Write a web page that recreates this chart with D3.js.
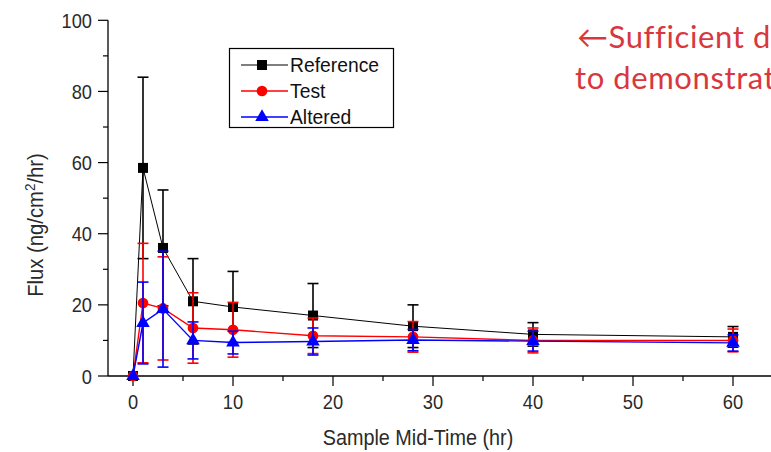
<!DOCTYPE html>
<html>
<head>
<meta charset="utf-8">
<script src="https://cdn.jsdelivr.net/npm/d3@7"></script>
<style>
  body { margin: 0; background: #fff; }
  svg { display: block; }
</style>
</head>
<body>
<div id="chart"></div>
<script>
// sample mid-times (hr)
var times = [0, 1, 3, 6, 10, 18, 28, 40, 60];

// flux values
var refMean  = [0, 58.5, 36, 21, 19.4, 17, 14, 11.7, 11];
var refErr   = [0, 25.5, 16.3, 12, 10, 9, 6, 3.3, 2.9];
var testMean = [0, 20.5, 19, 13.5, 13, 11.3, 11, 10, 10];
var testErr  = [0, 16.8, 14.5, 9.9, 7.7, 5, 4.3, 3.5, 3.2];
var altMean  = [0, 14.9, 18.8, 10, 9.4, 9.7, 10.1, 9.8, 9.3];
var altErr   = [0, 11.5, 16.3, 5.2, 3.2, 3.8, 3, 2.8, 2.3];

var seriesNames = ["Reference", "Test", "Altered"];
var xTicks = [0, 10, 20, 30, 40, 50, 60];
var yTicks = [0, 20, 40, 60, 80, 100];

var svgWidth = 771;
var svgHeight = 452;

var svg = d3.select("#chart")
  .append("svg")
  .attr("width", svgWidth)
  .attr("height", svgHeight);

// scales: x 0 -> 133px, 10 hr per 100px; y 0 -> 376px, 100 -> 20px
var xScale = d3.scaleLinear().domain([-2.5, 64]).range([108, 773]);
var yScale = d3.scaleLinear().domain([0, 100]).range([376, 20.3]);

var axisFont = "'Liberation Sans', Arial, sans-serif";
var textColor = "#2a2a2a";
var squeeze = 0.87; // origin-style narrow text

// x axis
var xAxisG = svg.append("g")
  .attr("transform", "translate(0,376)");
xAxisG.append("line")
  .attr("x1", 108).attr("x2", 773)
  .attr("stroke", "#000").attr("stroke-width", 1.3);
xAxisG.selectAll(".minor")
  .data(d3.range(5, 65, 10))
  .enter().append("line")
  .attr("x1", d => xScale(d)).attr("x2", d => xScale(d))
  .attr("y1", 0).attr("y2", 5)
  .attr("stroke", "#000").attr("stroke-width", 1.2);
xAxisG.selectAll(".major")
  .data(xTicks)
  .enter().append("line")
  .attr("x1", d => xScale(d)).attr("x2", d => xScale(d))
  .attr("y1", 0).attr("y2", 10)
  .attr("stroke", "#000").attr("stroke-width", 1.2);
xAxisG.selectAll("text")
  .data(xTicks)
  .enter().append("text")
  .attr("transform", d => `translate(${xScale(d)},33) scale(${squeeze},1)`)
  .attr("text-anchor", "middle")
  .attr("font-family", axisFont)
  .attr("font-size", 21)
  .attr("fill", textColor)
  .text(d => d);

// y axis
var yAxisG = svg.append("g")
  .attr("transform", "translate(108,0)");
yAxisG.append("line")
  .attr("y1", yScale(0)).attr("y2", yScale(100))
  .attr("stroke", "#000").attr("stroke-width", 1.3);
yAxisG.selectAll(".minor")
  .data(d3.range(10, 100, 20))
  .enter().append("line")
  .attr("y1", d => yScale(d)).attr("y2", d => yScale(d))
  .attr("x1", 0).attr("x2", -5)
  .attr("stroke", "#000").attr("stroke-width", 1.2);
yAxisG.selectAll(".major")
  .data(yTicks)
  .enter().append("line")
  .attr("y1", d => yScale(d)).attr("y2", d => yScale(d))
  .attr("x1", 0).attr("x2", -10)
  .attr("stroke", "#000").attr("stroke-width", 1.2);
yAxisG.selectAll("text")
  .data(yTicks)
  .enter().append("text")
  .attr("transform", d => `translate(-16,${yScale(d) + 7.5}) scale(${squeeze},1)`)
  .attr("text-anchor", "end")
  .attr("font-family", axisFont)
  .attr("font-size", 21)
  .attr("fill", textColor)
  .text(d => d);

// axis titles
svg.append("text")
  .attr("transform", `translate(418,445) scale(0.9,1)`)
  .attr("text-anchor", "middle")
  .attr("font-family", axisFont)
  .attr("font-size", 22)
  .attr("fill", textColor)
  .text("Sample Mid-Time (hr)");

var yTitle = svg.append("text")
  .attr("transform", `translate(43,225) rotate(-90) scale(0.9,1)`)
  .attr("text-anchor", "middle")
  .attr("font-family", axisFont)
  .attr("font-size", 22.5)
  .attr("fill", textColor);
yTitle.append("tspan").text("Flux (ng/cm");
yTitle.append("tspan").attr("font-size", 15).attr("dy", -8).text("2");
yTitle.append("tspan").attr("dy", 8).text("/hr)");

// series
var series = [
  { name: "Reference", mean: refMean, err: refErr, color: "#000", shape: d3.symbolSquare, size: 100, lw: 1 },
  { name: "Test", mean: testMean, err: testErr, color: "#ff0000", shape: d3.symbolCircle, size: 90, lw: 1.4 },
  { name: "Altered", mean: altMean, err: altErr, color: "#0000ff", shape: d3.symbolTriangle, size: 80, lw: 1.4 }
];

var line = d3.line()
  .x(d => xScale(d.t))
  .y(d => yScale(d.v));

series.forEach(function(s) {
  var pts = times.map((t, i) => ({ t: t, v: s.mean[i], e: s.err[i] }));
  var g = svg.append("g");

  g.append("path")
    .datum(pts)
    .attr("d", line)
    .attr("fill", "none")
    .attr("stroke", s.color)
    .attr("stroke-width", s.lw);

  // error bars
  var bars = g.selectAll(".err")
    .data(pts.filter(d => d.e > 0))
    .enter().append("g");
  bars.append("line")
    .attr("x1", d => xScale(d.t)).attr("x2", d => xScale(d.t))
    .attr("y1", d => yScale(d.v - d.e)).attr("y2", d => yScale(d.v + d.e))
    .attr("stroke", s.color).attr("stroke-width", 1.6);
  [1, -1].forEach(function(sign) {
    bars.append("line")
      .attr("x1", d => xScale(d.t) - 5.5).attr("x2", d => xScale(d.t) + 5.5)
      .attr("y1", d => yScale(d.v + sign * d.e)).attr("y2", d => yScale(d.v + sign * d.e))
      .attr("stroke", s.color).attr("stroke-width", 1.6);
  });

  g.selectAll(".pt")
    .data(pts)
    .enter().append("path")
    .attr("d", d3.symbol().type(s.shape).size(s.size))
    .attr("transform", d => `translate(${xScale(d.t)},${yScale(d.v)})`)
    .attr("fill", s.color);
});

// legend
var legend = svg.append("g");
legend.append("rect")
  .attr("x", 229.5).attr("y", 48.5)
  .attr("width", 164).attr("height", 79)
  .attr("fill", "#fff")
  .attr("stroke", "#000").attr("stroke-width", 1.2);
var legendRows = [65, 91, 117];
series.forEach(function(s, i) {
  var y = legendRows[i];
  legend.append("line")
    .attr("x1", 241).attr("x2", 288)
    .attr("y1", y).attr("y2", y)
    .attr("stroke", s.color).attr("stroke-width", s.lw + 0.2);
  legend.append("path")
    .attr("d", d3.symbol().type(s.shape).size(s.size))
    .attr("transform", `translate(262,${y})`)
    .attr("fill", s.color);
  legend.append("text")
    .attr("transform", `translate(290,${y + 7}) scale(0.92,1)`)
    .attr("font-family", axisFont)
    .attr("font-size", 21)
    .attr("fill", "#111")
    .text(s.name);
});

// annotation (runs off the right edge as in the source slide)
var noteFont = "Lato, 'Open Sans', sans-serif";
svg.append("text")
  .attr("x", 577)
  .attr("y", 48)
  .attr("font-family", noteFont)
  .attr("font-size", 31)
  .attr("letter-spacing", 0.6)
  .attr("fill", "#d9373e")
  .text("\u2190Sufficient data");
svg.append("text")
  .attr("x", 575)
  .attr("y", 89)
  .attr("font-family", noteFont)
  .attr("font-size", 31)
  .attr("letter-spacing", 0.6)
  .attr("fill", "#d9373e")
  .text("to demonstrate");
</script>
</body>
</html>
